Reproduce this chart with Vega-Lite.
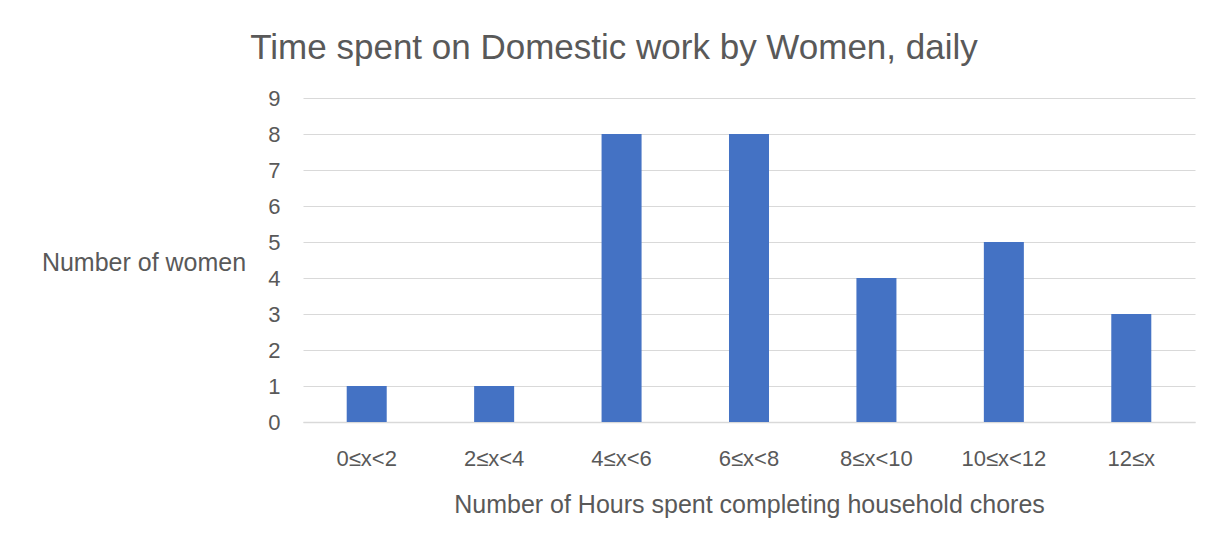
{
  "$schema": "https://vega.github.io/schema/vega-lite/v6.json",
  "autosize": "none",
  "width": 892,
  "height": 324,
  "padding": {"left": 303, "top": 98, "right": 16, "bottom": 124},
  "background": "white",
  "config": {
    "font": "Liberation Sans",
    "view": {"stroke": null}
  },
  "title": {
    "text": "Time spent on Domestic work by Women, daily",
    "font": "Liberation Sans",
    "fontSize": 35,
    "fontWeight": "normal",
    "color": "#595959",
    "anchor": "middle",
    "frame": "group",
    "dx": -135,
    "dy": 35,
    "baseline": "alphabetic",
    "offset": 28
  },
  "data": {
    "values": [
      {"hours": "0≤x<2", "women": 1},
      {"hours": "2≤x<4", "women": 1},
      {"hours": "4≤x<6", "women": 8},
      {"hours": "6≤x<8", "women": 8},
      {"hours": "8≤x<10", "women": 4},
      {"hours": "10≤x<12", "women": 5},
      {"hours": "12≤x", "women": 3}
    ]
  },
  "mark": {"type": "bar", "color": "#4472C4"},
  "encoding": {
    "x": {
      "field": "hours",
      "type": "nominal",
      "sort": null,
      "scale": {"paddingInner": 0.686, "paddingOuter": 0.343},
      "axis": {
        "title": "Number of Hours spent completing household chores",
        "titleFont": "Liberation Sans",
        "titleFontSize": 25,
        "titleFontWeight": "normal",
        "titleColor": "#595959",
        "titleBaseline": "alphabetic",
        "titleY": 90,
        "labelAngle": 0,
        "labelFont": "Liberation Sans",
        "labelFontSize": 22,
        "labelColor": "#595959",
        "labelBaseline": "alphabetic",
        "labelPadding": 43,
        "ticks": false,
        "domain": true,
        "domainColor": "#d9d9d9",
        "domainWidth": 1.5,
        "grid": false
      }
    },
    "y": {
      "field": "women",
      "type": "quantitative",
      "scale": {"domain": [0, 9], "nice": false},
      "axis": {
        "title": "Number of women",
        "titleFont": "Liberation Sans",
        "titleFontSize": 25,
        "titleFontWeight": "normal",
        "titleColor": "#595959",
        "titleAngle": 0,
        "titleAlign": "center",
        "titleBaseline": "alphabetic",
        "titleX": -159.5,
        "titleY": 172,
        "values": [0, 1, 2, 3, 4, 5, 6, 7, 8, 9],
        "labelFont": "Liberation Sans",
        "labelFontSize": 22,
        "labelColor": "#595959",
        "labelPadding": 23,
        "ticks": false,
        "domain": false,
        "grid": true,
        "gridColor": "#d9d9d9",
        "gridWidth": 1.2
      }
    }
  }
}
